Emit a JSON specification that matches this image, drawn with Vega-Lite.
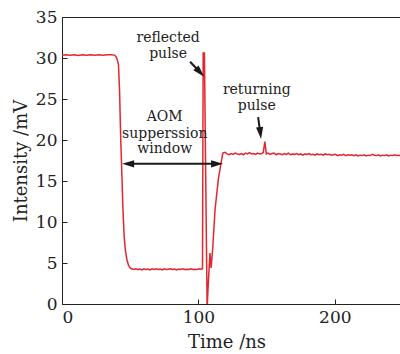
{
  "$schema": "https://vega.github.io/schema/vega-lite/v6.json",
  "width": 341,
  "height": 287,
  "autosize": {"type": "none"},
  "padding": {"left": 62, "top": 17, "right": 0, "bottom": 50},
  "background": "white",
  "config": {
    "view": {"stroke": "#222", "strokeWidth": 1},
    "font": "DejaVu Serif",
    "axis": {
      "grid": false,
      "domainColor": "#222",
      "tickColor": "#222",
      "labelColor": "#222",
      "titleColor": "#222",
      "labelFont": "DejaVu Serif",
      "titleFont": "DejaVu Serif",
      "labelFontSize": 17,
      "titleFontSize": 18,
      "titleFontWeight": "normal",
      "tickSize": -5,
      "labelPadding": 10
    }
  },
  "datasets": {
    "wave": [
      {"t": 0, "v": 30.35}, {"t": 3, "v": 30.4}, {"t": 6, "v": 30.35}, {"t": 9, "v": 30.4},
      {"t": 12, "v": 30.3}, {"t": 15, "v": 30.4}, {"t": 18, "v": 30.35}, {"t": 21, "v": 30.4},
      {"t": 24, "v": 30.35}, {"t": 27, "v": 30.4}, {"t": 30, "v": 30.35}, {"t": 33, "v": 30.4},
      {"t": 36, "v": 30.4}, {"t": 38.5, "v": 30.35}, {"t": 39.5, "v": 30.2}, {"t": 40.5, "v": 29.8},
      {"t": 41.4, "v": 29.2}, {"t": 42.2, "v": 26.0}, {"t": 43.0, "v": 20.5}, {"t": 43.9, "v": 15.8},
      {"t": 44.7, "v": 11.5}, {"t": 45.6, "v": 8.2}, {"t": 46.5, "v": 6.5}, {"t": 47.6, "v": 5.4},
      {"t": 48.8, "v": 4.7}, {"t": 50, "v": 4.4}, {"t": 51, "v": 4.3}, {"t": 52.5, "v": 4.2},
      {"t": 54, "v": 4.3}, {"t": 55.5, "v": 4.2}, {"t": 57, "v": 4.25}, {"t": 58.5, "v": 4.15},
      {"t": 60, "v": 4.3}, {"t": 61.5, "v": 4.2}, {"t": 63, "v": 4.25}, {"t": 64.5, "v": 4.15},
      {"t": 66, "v": 4.3}, {"t": 67.5, "v": 4.2}, {"t": 69, "v": 4.3}, {"t": 70.5, "v": 4.2},
      {"t": 72, "v": 4.25}, {"t": 73.5, "v": 4.15}, {"t": 75, "v": 4.3}, {"t": 76.5, "v": 4.2},
      {"t": 78, "v": 4.25}, {"t": 79.5, "v": 4.3}, {"t": 81, "v": 4.2}, {"t": 82.5, "v": 4.25},
      {"t": 84, "v": 4.15}, {"t": 85.5, "v": 4.25}, {"t": 87, "v": 4.2}, {"t": 88.5, "v": 4.3},
      {"t": 90, "v": 4.2}, {"t": 91.5, "v": 4.25}, {"t": 93, "v": 4.2}, {"t": 94.5, "v": 4.3},
      {"t": 96, "v": 4.2}, {"t": 97.5, "v": 4.25}, {"t": 99, "v": 4.2}, {"t": 100.5, "v": 4.3},
      {"t": 102, "v": 4.25}, {"t": 103.0, "v": 4.3}, {"t": 103.5, "v": 30.6}, {"t": 104.4, "v": 30.6},
      {"t": 106.4, "v": -0.5}, {"t": 107.4, "v": 3.0}, {"t": 108.5, "v": 6.2}, {"t": 109.3, "v": 4.4},
      {"t": 110.5, "v": 6.8}, {"t": 112.2, "v": 11.5}, {"t": 114.6, "v": 15.2}, {"t": 116.4, "v": 17.0},
      {"t": 117.9, "v": 18.4}, {"t": 119.5, "v": 18.5}, {"t": 121, "v": 18.3}, {"t": 122.5, "v": 18.2},
      {"t": 124, "v": 18.35}, {"t": 125.5, "v": 18.25}, {"t": 127, "v": 18.4}, {"t": 128.5, "v": 18.3},
      {"t": 130, "v": 18.25}, {"t": 131.5, "v": 18.35}, {"t": 133, "v": 18.2}, {"t": 134.5, "v": 18.4},
      {"t": 136, "v": 18.3}, {"t": 137.5, "v": 18.45}, {"t": 139, "v": 18.3}, {"t": 140.5, "v": 18.35},
      {"t": 142, "v": 18.25}, {"t": 143.5, "v": 18.4}, {"t": 145, "v": 18.3}, {"t": 146.5, "v": 18.35},
      {"t": 147.6, "v": 18.5}, {"t": 148.7, "v": 19.8}, {"t": 149.8, "v": 18.3}, {"t": 151, "v": 18.4},
      {"t": 152.5, "v": 18.25}, {"t": 154, "v": 18.35}, {"t": 155.5, "v": 18.4}, {"t": 157, "v": 18.2},
      {"t": 158.5, "v": 18.35}, {"t": 160, "v": 18.3}, {"t": 161.5, "v": 18.2}, {"t": 163, "v": 18.35},
      {"t": 164.5, "v": 18.25}, {"t": 166, "v": 18.4}, {"t": 167.5, "v": 18.2}, {"t": 169, "v": 18.3},
      {"t": 170.5, "v": 18.25}, {"t": 172, "v": 18.35}, {"t": 173.5, "v": 18.2}, {"t": 175, "v": 18.3},
      {"t": 176.5, "v": 18.15}, {"t": 178, "v": 18.3}, {"t": 179.5, "v": 18.25}, {"t": 181, "v": 18.35},
      {"t": 182.5, "v": 18.2}, {"t": 184, "v": 18.25}, {"t": 185.5, "v": 18.15}, {"t": 187, "v": 18.3},
      {"t": 188.5, "v": 18.2}, {"t": 190, "v": 18.25}, {"t": 191.5, "v": 18.15}, {"t": 193, "v": 18.3},
      {"t": 194.5, "v": 18.2}, {"t": 196, "v": 18.25}, {"t": 197.5, "v": 18.15}, {"t": 199, "v": 18.2},
      {"t": 200.5, "v": 18.25}, {"t": 202, "v": 18.1}, {"t": 203.5, "v": 18.2}, {"t": 205, "v": 18.15},
      {"t": 206.5, "v": 18.25}, {"t": 208, "v": 18.1}, {"t": 209.5, "v": 18.2}, {"t": 211, "v": 18.15},
      {"t": 212.5, "v": 18.2}, {"t": 214, "v": 18.1}, {"t": 215.5, "v": 18.2}, {"t": 217, "v": 18.05},
      {"t": 218.5, "v": 18.15}, {"t": 220, "v": 18.1}, {"t": 221.5, "v": 18.2}, {"t": 223, "v": 18.05},
      {"t": 224.5, "v": 18.15}, {"t": 226, "v": 18.1}, {"t": 227.5, "v": 18.25}, {"t": 229, "v": 18.15},
      {"t": 230.5, "v": 18.1}, {"t": 232, "v": 18.2}, {"t": 233.5, "v": 18.05}, {"t": 235, "v": 18.15},
      {"t": 236.5, "v": 18.1}, {"t": 238, "v": 18.2}, {"t": 239.5, "v": 18.05}, {"t": 241, "v": 18.15},
      {"t": 242.5, "v": 18.1}, {"t": 244, "v": 18.2}, {"t": 245.5, "v": 18.1}, {"t": 247, "v": 18.15},
      {"t": 248.5, "v": 18.05}, {"t": 250, "v": 18.1}
    ],
    "labels": [
      {"label": "reflected", "t": 77.8, "v": 32.0},
      {"label": "pulse", "t": 77.8, "v": 30.05},
      {"label": "returning", "t": 142.8, "v": 25.65},
      {"label": "pulse", "t": 142.8, "v": 23.7},
      {"label": "AOM", "t": 75.3, "v": 22.27},
      {"label": "supperssion", "t": 75.3, "v": 20.3},
      {"label": "window", "t": 75.3, "v": 18.4}
    ],
    "shafts": [
      {"t": 48.5, "v": 17.1, "t2": 113.7, "v2": 17.1},
      {"t": 93.9, "v": 29.55, "t2": 101.2, "v2": 28.26},
      {"t": 143.8, "v": 22.8, "t2": 145.4, "v2": 20.85}
    ],
    "headLeft": [{"t": 48.5, "v": 17.1}],
    "headRight": [{"t": 113.7, "v": 17.1}],
    "headReflected": [{"t": 101.2, "v": 28.26}],
    "headReturning": [{"t": 145.4, "v": 20.85}]
  },
  "encoding": {
    "x": {"field": "t", "type": "quantitative"},
    "y": {"field": "v", "type": "quantitative"}
  },
  "layer": [
    {
      "data": {"name": "wave"},
      "mark": {"type": "line", "color": "#e3262e", "strokeWidth": 1.5, "clip": true},
      "encoding": {
        "x": {"field": "t", "type": "quantitative", "scale": {"domain": [0, 250], "nice": false},
              "axis": {"values": [0, 100, 200], "title": "Time /ns", "titlePadding": 8, "titleX": 164.5}},
        "y": {"field": "v", "type": "quantitative", "scale": {"domain": [0, 35], "nice": false},
              "axis": {"values": [0, 5, 10, 15, 20, 25, 30, 35], "title": "Intensity /mV", "titlePadding": 5}}
      }
    },
    {
      "data": {"name": "shafts"},
      "mark": {"type": "rule", "color": "#1a1a1a", "strokeWidth": 2},
      "encoding": {
        "x2": {"field": "t2"},
        "y2": {"field": "v2"}
      }
    },
    {
      "data": {"name": "headLeft"},
      "mark": {"type": "point", "shape": "M 1 0 L -1 -0.6 L -1 0.6 Z", "filled": true, "color": "#1a1a1a", "size": 144, "opacity": 1, "angle": 180}
    },
    {
      "data": {"name": "headRight"},
      "mark": {"type": "point", "shape": "M 1 0 L -1 -0.6 L -1 0.6 Z", "filled": true, "color": "#1a1a1a", "size": 144, "opacity": 1, "angle": 0}
    },
    {
      "data": {"name": "headReflected"},
      "mark": {"type": "point", "shape": "M 1 0 L -1 -0.6 L -1 0.6 Z", "filled": true, "color": "#1a1a1a", "size": 144, "opacity": 1, "angle": 47}
    },
    {
      "data": {"name": "headReturning"},
      "mark": {"type": "point", "shape": "M 1 0 L -1 -0.6 L -1 0.6 Z", "filled": true, "color": "#1a1a1a", "size": 144, "opacity": 1, "angle": 83}
    },
    {
      "data": {"name": "labels"},
      "mark": {"type": "text", "font": "DejaVu Serif", "fontSize": 14, "color": "#222", "align": "center", "baseline": "alphabetic"},
      "encoding": {
        "text": {"field": "label"}
      }
    }
  ]
}
